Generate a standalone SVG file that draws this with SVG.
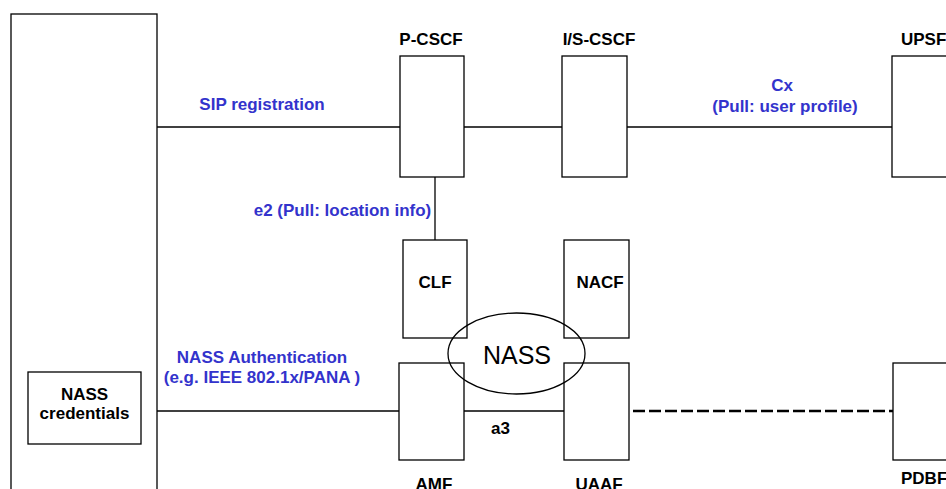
<svg xmlns="http://www.w3.org/2000/svg" width="946" height="489" viewBox="0 0 946 489">
<style>
.box{fill:#fff;stroke:#000;stroke-width:1.3}
.ln{stroke:#000;stroke-width:1.3;fill:none}
.dash{stroke:#000;stroke-width:2.5;stroke-dasharray:12 4;fill:none}
.lbl{font-family:"Liberation Sans",Arial,sans-serif;font-weight:bold;font-size:17px;fill:#000}
.blue{font-family:"Liberation Sans",Arial,sans-serif;font-weight:bold;font-size:17px;fill:#3333CC}
.big{font-family:"Liberation Sans",Arial,sans-serif;font-size:25px;fill:#000}
</style>
<rect width="946" height="489" fill="#fff"/>
<g id="connectors">
<line class="ln" x1="157" y1="127" x2="400" y2="127"/>
<line class="ln" x1="464" y1="127" x2="562" y2="127"/>
<line class="ln" x1="627" y1="127" x2="892" y2="127"/>
<line class="ln" x1="435" y1="177" x2="435" y2="240"/>
<line class="ln" x1="141" y1="411" x2="399" y2="411"/>
<line class="ln" x1="464" y1="411" x2="569" y2="411"/>
<line class="dash" x1="633" y1="411" x2="893" y2="411"/>
<text class="blue" x="262" y="110" text-anchor="middle">SIP registration</text>
<text class="blue" x="342.5" y="216" text-anchor="middle">e2 (Pull: location info)</text>
<text class="blue" x="782" y="91" text-anchor="middle">Cx</text>
<text class="blue" x="785" y="112" text-anchor="middle">(Pull: user profile)</text>
<text class="blue" x="262" y="363" text-anchor="middle">NASS Authentication</text>
<text class="blue" x="262" y="383" text-anchor="middle">(e.g. IEEE 802.1x/PANA )</text>
<text class="lbl" x="491" y="434">a3</text>
</g>
<g id="ue"><rect class="box" x="11" y="14" width="146" height="490"/></g>
<g id="nass-cred">
<rect class="box" x="28" y="372" width="113" height="72"/>
<text class="lbl" x="84.5" y="400" text-anchor="middle">NASS</text>
<text class="lbl" x="84.5" y="419" text-anchor="middle">credentials</text>
</g>
<g id="pcscf">
<rect class="box" x="400" y="56" width="64" height="121"/>
<text class="lbl" x="431" y="45" text-anchor="middle">P-CSCF</text>
</g>
<g id="iscscf">
<rect class="box" x="562" y="56" width="65" height="121"/>
<text class="lbl" x="599" y="45" text-anchor="middle">I/S-CSCF</text>
</g>
<g id="upsf">
<rect class="box" x="892" y="56" width="80" height="121"/>
<text class="lbl" x="901" y="45">UPSF</text>
</g>
<g id="clf">
<rect class="box" x="403" y="240" width="64" height="98"/>
<text class="lbl" x="435" y="288" text-anchor="middle">CLF</text>
</g>
<g id="nacf">
<rect class="box" x="564" y="240" width="65" height="98"/>
<text class="lbl" x="600" y="288" text-anchor="middle">NACF</text>
</g>
<g id="amf">
<rect class="box" x="399" y="363" width="65" height="97"/>
<text class="lbl" x="434" y="490" text-anchor="middle">AMF</text>
</g>
<g id="uaaf">
<rect class="box" x="564" y="363" width="65" height="97"/>
<text class="lbl" x="599" y="490" text-anchor="middle">UAAF</text>
</g>
<g id="pdbf">
<rect class="box" x="893" y="363" width="80" height="97"/>
<text class="lbl" x="901" y="484">PDBF</text>
</g>
<g id="nass">
<ellipse cx="516.5" cy="353.5" rx="68.5" ry="40.5" fill="none" stroke="#000" stroke-width="1.3"/>
<text class="big" x="517" y="364" text-anchor="middle">NASS</text>
</g>
</svg>
